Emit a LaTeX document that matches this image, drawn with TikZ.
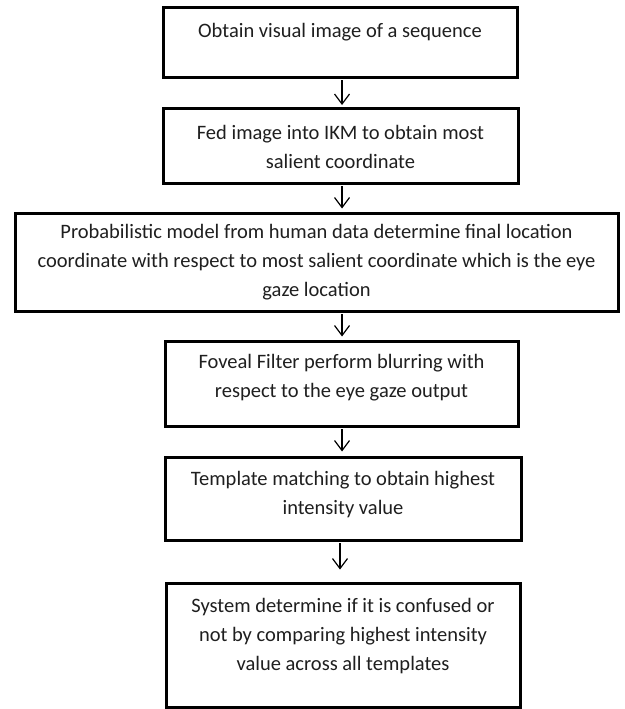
\documentclass[tikz,border=0pt]{standalone}
\usepackage{fontspec}
\setmainfont{Carlito}
\usetikzlibrary{arrows.meta}
\newcommand\mystr{\rule{0pt}{16pt}}
\begin{document}
\begin{tikzpicture}[x=1pt,y=-1pt,
  box/.style={draw=black, line width=3pt, rectangle, inner sep=0pt, fill=white},
  txt/.style={anchor=north, inner sep=0pt, align=center, text=black!88,
    font=\fontsize{20.5pt}{29pt}\selectfont},
  arr/.style={line width=1.2pt, -{Straight Barb[length=10pt,width=15pt,line width=1.2pt]}}]
\useasboundingbox[fill=white] (0,0) rectangle (624,709);
% boxes: centre and size from measured corners
\node[box, minimum width=354pt, minimum height=69pt] (b1) at (340,42.5) {};
\node[box, minimum width=355pt, minimum height=75pt] (b2) at (340.5,145.5) {};
\node[box, minimum width=603pt, minimum height=98pt] (b3) at (316.5,262) {};
\node[box, minimum width=353pt, minimum height=85pt] (b4) at (341.5,383.5) {};
\node[box, minimum width=356pt, minimum height=83pt] (b5) at (343,498.5) {};
\node[box, minimum width=354pt, minimum height=124pt] (b6) at (343,645) {};
% texts
\node[txt] (t1) at (b1.north |- 0,21) {\mystr Obtain visual image of a sequence};
\node[txt] (t2) at (b2.north |- 0,123) {\mystr Fed image into IKM to obtain most\\salient coordinate};
\node[txt] (t3) at (b3.north |- 0,222) {\mystr Probabilistic model from human data determine final location\\coordinate with respect to most salient coordinate which is the eye\\gaze location};
\node[txt] (t4) at (b4.north |- 0,352) {\mystr Foveal Filter perform blurring with\\respect to the eye gaze output};
\node[txt] (t5) at (b5.north |- 0,469) {\mystr Template matching to obtain highest\\intensity value};
\node[txt] (t6) at (b6.north |- 0,596) {\mystr System determine if it is confused or\\not by comparing highest intensity\\value across all templates};
% connectors
\coordinate (a1) at (342,0);
\draw[arr, shorten <=1.5pt, shorten >=1.5pt] (b1.south -| a1) -- (b2.north -| a1);
\draw[arr, shorten <=1.5pt, shorten >=3pt] (b2.south -| a1) -- (b3.north -| a1);
\draw[arr, shorten <=1.5pt, shorten >=3pt] (b3.south -| a1) -- (b4.north -| a1);
\draw[arr, shorten <=1.5pt, shorten >=4pt] (b4.south -| a1) -- (b5.north -| a1);
\coordinate (a5) at (340,0);
\draw[arr, shorten <=1.5pt, shorten >=12pt] (b5.south -| a5) -- (b6.north -| a5);
\end{tikzpicture}
\end{document}
